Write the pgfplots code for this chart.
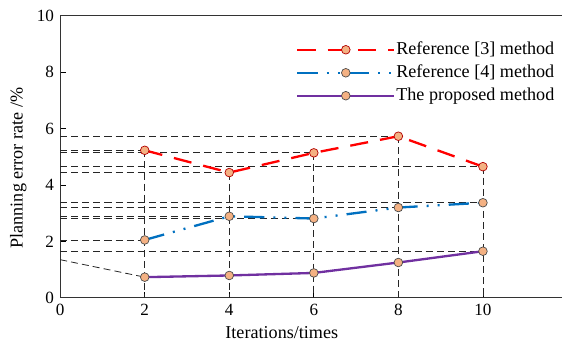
\documentclass[border=0pt]{standalone}
\usepackage{pgfplots}
\pgfplotsset{compat=1.18}
\usepackage{fontspec}
\setmainfont{Liberation Serif}
\definecolor{cred}{HTML}{FF0000}
\definecolor{cblue}{HTML}{0070C0}
\definecolor{cpurple}{HTML}{7030A0}
\definecolor{cfill}{HTML}{F4B183}
\begin{document}
\fontsize{18bp}{21bp}\selectfont
\begin{tikzpicture}
\begin{axis}[
  scale only axis,
  width=498bp, height=280bp,
  xmin=0, xmax=11.86, ymin=0, ymax=10,
  axis x line*=bottom, axis y line*=left,
  xtick={0,2,4,6,8,10}, ytick={0,2,4,6,8,10},
  tick align=inside, major tick length=6bp,
  tick style={black, line width=0.8bp},
  axis line style={black!80, line width=0.9bp},
  /pgf/number format/assume math mode=true,
  tick label style={font=\fontsize{17bp}{20bp}\selectfont},
  label style={font=\fontsize{18bp}{21bp}\selectfont},
  xlabel={Iterations/times},
  ylabel={Planning error rate /\%},
  xlabel style={at={(ticklabel cs:0.442)}, anchor=north, yshift=1bp},
  ylabel style={at={(ticklabel cs:0.46)}, anchor=south, yshift=-2bp},
  clip=false,
  legend style={draw=none, fill=none, at={(rel axis cs:0.99,0.915)}, anchor=north east,
    font=\fontsize{18bp}{21bp}\selectfont, row sep=5.5bp, inner sep=1bp,
    nodes={inner sep=1bp}},
  legend cell align=left,
  legend image code/.code={\draw[mark repeat=2,mark phase=2,#1] plot coordinates {(0bp,0bp)(48bp,0bp)(96bp,0bp)};},
]
% guide lines
\pgfplotsset{guide/.style={black!85, line width=0.8bp, dash pattern=on 7bp off 4bp, forget plot}}
\addplot[guide] coordinates {(0,5.73)(8,5.73)};
\addplot[guide] coordinates {(0,5.23)(2,5.23)};
\addplot[guide] coordinates {(0,5.14)(6,5.14)};
\addplot[guide] coordinates {(0,4.65)(10,4.65)};
\addplot[guide] coordinates {(0,4.44)(4,4.44)};
\addplot[guide] coordinates {(0,3.37)(10,3.37)};
\addplot[guide] coordinates {(0,3.20)(8,3.20)};
\addplot[guide] coordinates {(0,2.89)(4,2.89)};
\addplot[guide] coordinates {(0,2.81)(6,2.81)};
\addplot[guide] coordinates {(0,2.05)(2,2.05)};
\addplot[guide] coordinates {(0,1.65)(10,1.65)};
\addplot[guide] coordinates {(0,1.35)(2,0.73)};
\addplot[guide] coordinates {(2,5.23)(2,0)};
\addplot[guide] coordinates {(4,4.44)(4,0)};
\addplot[guide] coordinates {(6,5.14)(6,0)};
\addplot[guide] coordinates {(8,5.73)(8,0)};
\addplot[guide] coordinates {(10,4.65)(10,0)};
% top border
\addplot[black!80, line width=0.9bp, forget plot] coordinates {(0,10)(11.86,10)};
% series
\addplot[cred, line width=2.3bp, dash pattern=on 18bp off 12bp,
  mark=*, mark size=4.3bp, mark options={solid, fill=cfill, draw=cred!70!black, line width=0.7bp}]
  coordinates {(2,5.23)(4,4.44)(6,5.14)(8,5.73)(10,4.65)};
\addlegendentry{Reference [3] method}
\addplot[cblue, line width=2.3bp, dash pattern=on 20bp off 9bp on 2bp off 9bp on 2bp off 9bp,
  mark=*, mark size=4.3bp, mark options={solid, fill=cfill, draw=black!70, line width=0.7bp}]
  coordinates {(2,2.05)(4,2.89)(6,2.81)(8,3.20)(10,3.37)};
\addlegendentry{Reference [4] method}
\addplot[cpurple, line width=2.3bp,
  mark=*, mark size=4.3bp, mark options={solid, fill=cfill, draw=black!70, line width=0.7bp}]
  coordinates {(2,0.73)(4,0.79)(6,0.88)(8,1.25)(10,1.65)};
\addlegendentry{The proposed method}
\end{axis}
\path (current bounding box.north west) ++(-4bp,4bp);
\end{tikzpicture}
\end{document}
